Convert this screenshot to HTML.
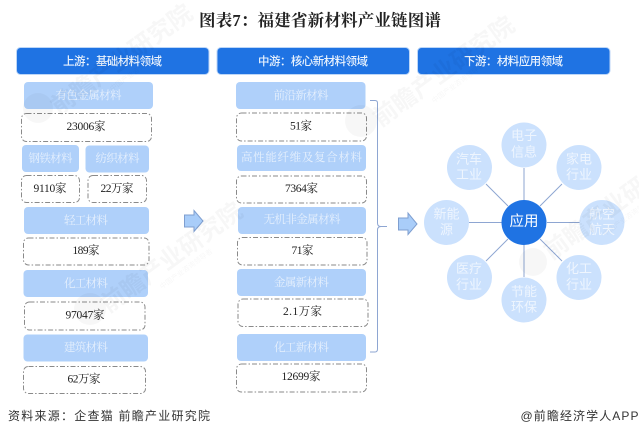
<!DOCTYPE html>
<html lang="zh">
<head>
<meta charset="utf-8">
<style>
html,body{margin:0;padding:0;background:#fff;width:639px;height:437px;overflow:hidden}
svg{display:block;filter:blur(.25px)}
text{dominant-baseline:central;text-anchor:middle;font-family:"Liberation Serif","Noto Serif CJK SC",serif}
.b{fill:#afd0fa}
.h{fill:#1f73e3;stroke:#bcd6f7;stroke-width:1}
.d{fill:#fff;stroke:#8a8a8a;stroke-width:1;stroke-dasharray:5 2 1.5 2}
.l{fill:#e6f0fd;font-size:11.5px}
.n{fill:#222;font-size:11.5px}
.t{fill:#e9f2fd;font-size:11.5px;font-family:"Liberation Sans","Noto Sans CJK SC",sans-serif;font-weight:500}
.c{fill:#cbe1fd}
.ct{fill:#eef5fe;font-size:13px;font-family:"Liberation Sans","Noto Sans CJK SC",sans-serif}
.w{fill:#000;opacity:.03;font-family:"Liberation Sans","Noto Sans CJK SC",sans-serif;font-weight:700;font-size:24px}
.w2{fill:#000;opacity:.03;font-family:"Liberation Sans","Noto Sans CJK SC",sans-serif;font-size:7px}
.wl{fill:#000;opacity:.03}
.ln{stroke:#8ea6d2;stroke-width:1;fill:none}
.ar{fill:#a9cdf9;stroke:#7f9fd0;stroke-width:1}
.f{fill:#333;font-size:12px;font-family:"Liberation Sans","Noto Sans CJK SC",sans-serif}
</style>
</head>
<body>
<svg width="639" height="437" viewBox="0 0 639 437" xmlns="http://www.w3.org/2000/svg">
<text x="320" y="20.5" textLength="242" lengthAdjust="spacing" style="font-size:16.5px;font-weight:700;fill:#222;font-family:'Liberation Serif','Noto Serif CJK SC',serif">图表7&#65306;福建省新材料产业链图谱</text>

<rect class="h" x="16.5" y="47.5" width="192.5" height="27" rx="4"/>
<rect class="h" x="217" y="47.5" width="192.5" height="27" rx="4"/>
<rect class="h" x="417.5" y="47.5" width="192.5" height="27" rx="4"/>
<text class="t" x="112.5" y="62" textLength="99" lengthAdjust="spacing">上游&#65306;基础材料领域</text>
<text class="t" x="313" y="62" textLength="110" lengthAdjust="spacing">中游&#65306;核心新材料领域</text>
<text class="t" x="513.5" y="62" textLength="99" lengthAdjust="spacing">下游&#65306;材料应用领域</text>

<!-- left column -->
<rect class="b" x="24" y="82" width="129" height="27" rx="4"/>
<text class="l" x="88.5" y="96" textLength="66">有色金属材料</text>
<rect class="d" x="21.5" y="113.5" width="130" height="28" rx="5"/>
<text class="n" x="86" y="127" textLength="39">23006家</text>
<rect class="b" x="22" y="145" width="57" height="27" rx="4"/>
<text class="l" x="50.5" y="159" textLength="44">钢铁材料</text>
<rect class="b" x="85.5" y="145.5" width="63.5" height="27" rx="4"/>
<text class="l" x="117.5" y="159" textLength="44">纺织材料</text>
<rect class="d" x="21.5" y="175.5" width="58" height="27" rx="5"/>
<text class="n" x="50" y="189" textLength="33">9110家</text>
<rect class="d" x="88" y="175.5" width="58.5" height="27" rx="5"/>
<text class="n" x="117" y="189" textLength="33">22万家</text>
<rect class="b" x="24" y="207" width="125" height="27" rx="4"/>
<text class="l" x="86" y="221" textLength="44">轻工材料</text>
<rect class="d" x="23.5" y="238" width="125.5" height="27" rx="5"/>
<text class="n" x="86" y="251" textLength="27">189家</text>
<rect class="b" x="23.5" y="270" width="124.5" height="27" rx="4"/>
<text class="l" x="86" y="284" textLength="44">化工材料</text>
<rect class="d" x="24.5" y="302" width="120.5" height="28" rx="5"/>
<text class="n" x="85" y="315.5" textLength="39">97047家</text>
<rect class="b" x="23.5" y="334.5" width="124.5" height="27" rx="4"/>
<text class="l" x="86" y="348" textLength="44">建筑材料</text>
<rect class="d" x="23.5" y="366.5" width="122" height="27" rx="5"/>
<text class="n" x="84" y="379.5" textLength="33">62万家</text>

<!-- middle column -->
<rect class="b" x="236" y="82" width="129.5" height="27" rx="4"/>
<text class="l" x="301" y="96" textLength="55">前沿新材料</text>
<rect class="d" x="236.5" y="113" width="130" height="28" rx="5"/>
<text class="n" x="301" y="126.5" textLength="22">51家</text>
<rect class="b" x="237" y="145" width="129" height="26" rx="4"/>
<text class="l" x="301.5" y="158" textLength="121">高性能纤维及复合材料</text>
<rect class="d" x="236.5" y="176" width="130" height="27" rx="5"/>
<text class="n" x="301.5" y="189" textLength="33">7364家</text>
<rect class="b" x="238" y="207" width="128" height="27" rx="4"/>
<text class="l" x="302" y="220" textLength="77">无机非金属材料</text>
<rect class="d" x="237.5" y="237.5" width="129.5" height="27.5" rx="5"/>
<text class="n" x="302.5" y="251" textLength="22">71家</text>
<rect class="b" x="237" y="269" width="129" height="27" rx="4"/>
<text class="l" x="301.5" y="283" textLength="55">金属新材料</text>
<rect class="d" x="238" y="299" width="130" height="27.5" rx="5"/>
<text class="n" x="302.5" y="312" textLength="39">2.1万家</text>
<rect class="b" x="237" y="334" width="129" height="27" rx="4"/>
<text class="l" x="301.5" y="348" textLength="55">化工新材料</text>
<rect class="d" x="236.5" y="364" width="130" height="28" rx="5"/>
<text class="n" x="301" y="377" textLength="39">12699家</text>

<!-- bracket -->
<path class="ln" d="M370 100.5H375Q377.5 100.5 377.5 103V223Q377.5 226.5 381 226.5H387M381 226.5Q377.5 226.5 377.5 230V349Q377.5 352 375 352H370"/>

<!-- block arrows -->
<path class="ar" d="M184.5 215H194V210.5L203 221L194 231.5V227H184.5Z"/>
<path class="ar" d="M398.5 218H408V213L417 224L408 234.5V230H398.5Z"/>

<!-- spokes -->
<path class="ln" d="M524 168V200M486 184L508 206M562 184L540 206M469 222.5H501.5M547 222.5H579.5M486 261L508 239M562 261L540 239M524 245V277"/>

<!-- circles -->
<circle cx="524" cy="222.5" r="22.5" fill="#1f73e3"/>
<text x="524" y="222" style="fill:#fff;font-size:14.5px;font-family:'Liberation Sans','Noto Sans CJK SC',sans-serif">应用</text>
<circle class="c" cx="524" cy="145" r="22.5"/>
<text class="ct" x="524" y="135.5">电子</text><text class="ct" x="524" y="152">信息</text>
<circle class="c" cx="469.5" cy="167.5" r="22.5"/>
<text class="ct" x="469" y="159">汽车</text><text class="ct" x="469" y="174.5">工业</text>
<circle class="c" cx="579" cy="167.5" r="22.5"/>
<text class="ct" x="579" y="159">家电</text><text class="ct" x="579" y="174.5">行业</text>
<circle class="c" cx="446.5" cy="222.5" r="22.5"/>
<text class="ct" x="446.5" y="214">新能</text><text class="ct" x="446.5" y="229.5">源</text>
<circle class="c" cx="602" cy="222.5" r="22.5"/>
<text class="ct" x="602" y="214">航空</text><text class="ct" x="602" y="229.5">航天</text>
<circle class="c" cx="469.5" cy="277.5" r="22.5"/>
<text class="ct" x="469" y="268.5">医疗</text><text class="ct" x="469" y="284.5">行业</text>
<circle class="c" cx="579" cy="277.5" r="22.5"/>
<text class="ct" x="579" y="268.5">化工</text><text class="ct" x="579" y="284.5">行业</text>
<circle class="c" cx="524" cy="300" r="22.5"/>
<text class="ct" x="524" y="291.5">节能</text><text class="ct" x="524" y="307">环保</text>

<!-- watermarks -->
<g transform="rotate(-36 122 60)"><text class="w" x="122" y="60">前瞻产业研究院</text><text class="w2" x="127" y="78">中国产业咨询领导者</text></g>
<g transform="rotate(-36 172 258)"><text class="w" x="172" y="258">前瞻产业研究院</text><text class="w2" x="177" y="276">中国产业咨询领导者</text></g>
<g transform="rotate(-36 444 72)"><text class="w" x="444" y="72">前瞻产业研究院</text><text class="w2" x="449" y="90">中国产业咨询领导者</text></g>
<g transform="rotate(-36 615 205)"><text class="w" x="615" y="205">前瞻产业研究院</text><text class="w2" x="620" y="223">中国产业咨询领导者</text></g>
<circle class="wl" cx="38" cy="108" r="15"/>
<circle class="wl" cx="90" cy="309" r="16"/>
<circle class="wl" cx="361" cy="121" r="16"/>
<circle class="wl" cx="533" cy="262" r="14"/>

<!-- footer -->
<text class="f" x="109" y="416" textLength="202">资料来源&#65306;企查猫 前瞻产业研究院</text>
<text class="f" x="579.5" y="416" textLength="118">@前瞻经济学人APP</text>
</svg>
</body>
</html>
